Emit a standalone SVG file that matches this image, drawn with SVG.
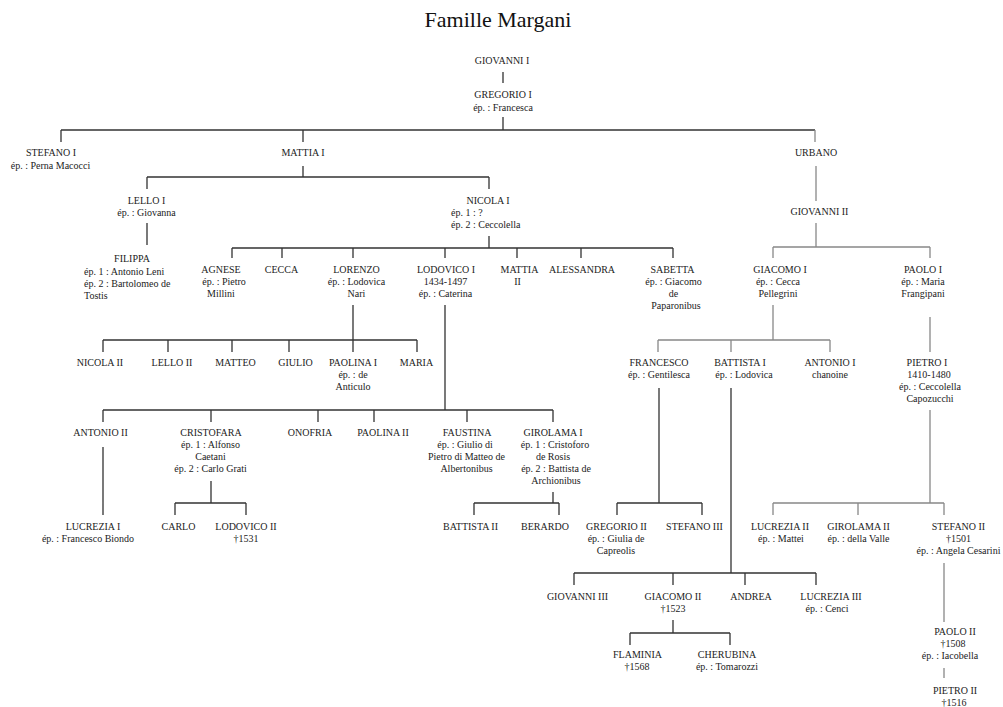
<svg xmlns="http://www.w3.org/2000/svg" width="1003" height="707" viewBox="0 0 1003 707">
<style>
text{font-family:"Liberation Serif","Times New Roman",serif;font-size:10px;fill:#222;text-anchor:middle}
.t{font-size:22px;fill:#111}
.l{text-anchor:start}
#connectors path{fill:none;stroke-width:1.3}
.d{stroke:#333}
.g{stroke:#888}
</style>
<rect width="1003" height="707" fill="#fff"/>
<text class="t" x="498" y="27">Famille Margani</text>
<g id="connectors">
<path class="d" d="M503 72V83M503 117V130M61 130H815M61 130V142M303 130V142"/>
<path class="g" d="M815 130V142"/>
<path class="d" d="M303 166V177M147 177H489M147 177V189M489 177V189M147 223V245"/>
<path class="d" d="M489 236V248M232 248H673M232 248V258M282 248V258M353 248V258M445 248V258M517 248V258M581 248V258M673 248V258"/>
<path class="d" d="M353 305V352M103 340H417M103 340V352M168 340V352M232 340V352M289 340V352M417 340V352"/>
<path class="d" d="M445 305V410M103 410H553M103 410V422M211 410V422M318 410V422M374 410V422M467 410V422M553 410V422"/>
<path class="d" d="M103 447V515M211 481V503M175 503H246M175 503V515M246 503V515M553 492V503M474 503H559M474 503V515M559 503V515"/>
<path class="g" d="M816 166V201M816 223V247M773 247H930M773 247V258M930 247V258"/>
<path class="g" d="M773 305V340M658 340H830M658 340V352M731 340V352M830 340V352M930 317V352"/>
<path class="g" d="M930 410V503M773 503H944M773 503V515M858 503V515M944 503V515M944 563V622M944 668V678"/>
<path class="d" d="M659 388V503M617 503H702M617 503V515M702 503V515"/>
<path class="d" d="M731 388V573M574 573H816M574 573V585M673 573V585M745 573V585M816 573V585"/>
<path class="d" d="M673 620V633M630 633H730M630 633V645M730 633V645"/>
</g>
<g id="giovanni1"><text x="502" y="63.5">GIOVANNI I</text></g>
<g id="gregorio1"><text x="503" y="97.5">GREGORIO I</text><text x="503" y="110.5">ép. : Francesca</text></g>
<g id="stefano1"><text x="51" y="156">STEFANO I</text><text x="50.5" y="168.5">ép. : Perna Macocci</text></g>
<g id="mattia1"><text x="303" y="156">MATTIA I</text></g>
<g id="urbano"><text x="816" y="156">URBANO</text></g>
<g id="lello1"><text x="146.5" y="203.5">LELLO I</text><text x="146.5" y="215.5">ép. : Giovanna</text></g>
<g id="nicola1"><text x="488" y="203.5">NICOLA I</text><text class="l" x="451" y="215.5">ép. 1 : ?</text><text class="l" x="451" y="227.5">ép. 2 : Ceccolella</text></g>
<g id="giovanni2"><text x="819.5" y="215">GIOVANNI II</text></g>
<g id="filippa"><text x="132" y="261.5">FILIPPA</text><text class="l" x="84" y="274.5">ép. 1 : Antonio Leni</text><text class="l" x="84" y="286.5">ép. 2 : Bartolomeo de</text><text class="l" x="84" y="298.5">Tostis</text></g>
<g id="agnese"><text x="221" y="273">AGNESE</text><text x="224" y="285">ép. : Pietro</text><text x="221" y="297">Millini</text></g>
<g id="cecca"><text x="281.5" y="273">CECCA</text></g>
<g id="lorenzo"><text x="356.5" y="273">LORENZO</text><text x="356.5" y="285">ép. : Lodovica</text><text x="356.5" y="297">Nari</text></g>
<g id="lodovico1"><text x="446" y="273">LODOVICO I</text><text x="445.5" y="285">1434-1497</text><text x="445.5" y="297">ép. : Caterina</text></g>
<g id="mattia2"><text x="519.5" y="273">MATTIA</text><text x="517.5" y="285">II</text></g>
<g id="alessandra"><text x="582" y="273">ALESSANDRA</text></g>
<g id="sabetta"><text x="672.5" y="273">SABETTA</text><text x="673.5" y="285">ép. : Giacomo</text><text x="673.5" y="297">de</text><text x="676" y="309">Paparonibus</text></g>
<g id="giacomo1"><text x="780" y="273">GIACOMO I</text><text x="778" y="285">ép. : Cecca</text><text x="778" y="297">Pellegrini</text></g>
<g id="paolo1"><text x="923" y="273">PAOLO I</text><text x="923" y="285">ép. : Maria</text><text x="923" y="297">Frangipani</text></g>
<g id="nicola2"><text x="100" y="366">NICOLA II</text></g>
<g id="lello2"><text x="172" y="366">LELLO II</text></g>
<g id="matteo"><text x="235.5" y="366">MATTEO</text></g>
<g id="giulio"><text x="295.5" y="366">GIULIO</text></g>
<g id="paolina1"><text x="353" y="366">PAOLINA I</text><text x="353" y="378">ép. : de</text><text x="353" y="390">Anticulo</text></g>
<g id="maria"><text x="416.5" y="366">MARIA</text></g>
<g id="francesco"><text x="659" y="366">FRANCESCO</text><text x="659" y="378">ép. : Gentilesca</text></g>
<g id="battista1"><text x="740" y="366">BATTISTA I</text><text x="744" y="378">ép. : Lodovica</text></g>
<g id="antonio1"><text x="830" y="366">ANTONIO I</text><text x="830" y="378">chanoine</text></g>
<g id="pietro1"><text x="927" y="366">PIETRO I</text><text x="929" y="378">1410-1480</text><text x="930" y="390">ép. : Ceccolella</text><text x="930" y="402">Capozucchi</text></g>
<g id="antonio2"><text x="100.5" y="436">ANTONIO II</text></g>
<g id="cristofara"><text x="211" y="436">CRISTOFARA</text><text x="210.5" y="448">ép. 1 : Alfonso</text><text x="210.5" y="460">Caetani</text><text x="210.5" y="472">ép. 2 : Carlo Grati</text></g>
<g id="onofria"><text x="310" y="436">ONOFRIA</text></g>
<g id="paolina2"><text x="383" y="436">PAOLINA II</text></g>
<g id="faustina"><text x="467" y="436">FAUSTINA</text><text x="465" y="448">ép. : Giulio di</text><text x="466.5" y="460">Pietro di Matteo de</text><text x="466.5" y="472">Albertonibus</text></g>
<g id="girolama1"><text x="553" y="436">GIROLAMA I</text><text x="555" y="448">ép. 1 : Cristoforo</text><text x="553" y="460">de Rosis</text><text x="556" y="472">ép. 2 : Battista de</text><text x="556" y="484">Archionibus</text></g>
<g id="lucrezia1"><text x="93" y="530">LUCREZIA I</text><text x="88" y="542">ép. : Francesco Biondo</text></g>
<g id="carlo"><text x="178.5" y="530">CARLO</text></g>
<g id="lodovico2"><text x="246" y="530">LODOVICO II</text><text x="246" y="542">†1531</text></g>
<g id="battista2"><text x="470.5" y="530">BATTISTA II</text></g>
<g id="berardo"><text x="545" y="530">BERARDO</text></g>
<g id="gregorio2"><text x="616.5" y="530">GREGORIO II</text><text x="616" y="542">ép. : Giulia de</text><text x="616" y="554">Capreolis</text></g>
<g id="stefano3"><text x="694.5" y="530">STEFANO III</text></g>
<g id="lucrezia2"><text x="780" y="530">LUCREZIA II</text><text x="781" y="542">ép. : Mattei</text></g>
<g id="girolama2"><text x="858.5" y="530">GIROLAMA II</text><text x="858.5" y="542">ép. : della Valle</text></g>
<g id="stefano2"><text x="958.5" y="530">STEFANO II</text><text x="958.5" y="542">†1501</text><text x="958.5" y="554">ép. : Angela Cesarini</text></g>
<g id="giovanni3"><text x="577.5" y="600">GIOVANNI III</text></g>
<g id="giacomo2"><text x="673" y="600">GIACOMO II</text><text x="673" y="612">†1523</text></g>
<g id="andrea"><text x="751" y="600">ANDREA</text></g>
<g id="lucrezia3"><text x="831" y="600">LUCREZIA III</text><text x="827" y="612">ép. : Cenci</text></g>
<g id="paolo2"><text x="955" y="635">PAOLO II</text><text x="953" y="647">†1508</text><text x="950" y="659">ép. : Iacobella</text></g>
<g id="flaminia"><text x="637.5" y="658">FLAMINIA</text><text x="637" y="670">†1568</text></g>
<g id="cherubina"><text x="727" y="658">CHERUBINA</text><text x="727" y="670">ép. : Tomarozzi</text></g>
<g id="pietro2"><text x="955" y="693.5">PIETRO II</text><text x="954" y="705.5">†1516</text></g>
</svg>
